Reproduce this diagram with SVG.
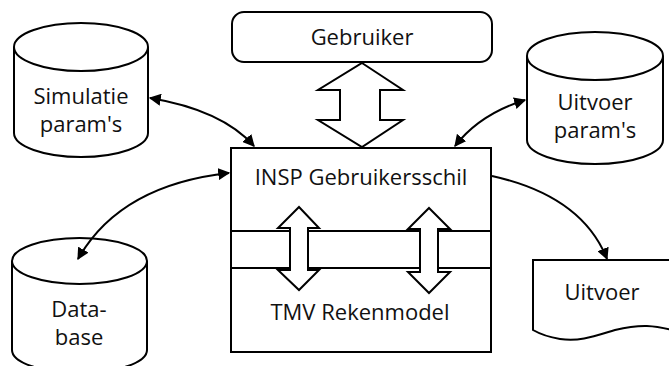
<svg xmlns="http://www.w3.org/2000/svg" width="669" height="366" viewBox="0 0 669 366">
<defs>
<style>
.s{fill:#fff;stroke:#000;stroke-width:2}
.t{font-family:"Open Sans","Noto Sans",sans-serif;font-size:22px;fill:#111;text-anchor:middle}
.c{fill:none;stroke:#000;stroke-width:2}
</style>
<marker id="ah" viewBox="0 0 10 10" refX="9" refY="5" markerWidth="6" markerHeight="6" orient="auto-start-reverse" markerUnits="strokeWidth">
<path d="M0,0 L10,5 L0,10 Z" fill="#000"/>
</marker>
</defs>
<rect width="669" height="366" fill="#fff"/>

<g id="simulatie">
<path class="s" d="M14,47 L14,133 A67,24 0 0 0 148,133 L148,47 A67,24 0 0 0 14,47 Z"/>
<path class="c" d="M14,47 A67,24 0 0 0 148,47"/>
<text class="t" x="81" y="104">Simulatie</text>
<text class="t" x="81" y="132">param's</text>
</g>

<g id="gebruiker">
<rect class="s" x="232" y="12" width="260" height="50" rx="12"/>
<text class="t" x="362" y="45">Gebruiker</text>
</g>

<g id="uitvoerparams">
<path class="s" d="M527,56 L527,140 A68,24 0 0 0 663,140 L663,56 A68,24 0 0 0 527,56 Z"/>
<path class="c" d="M527,56 A68,24 0 0 0 663,56"/>
<text class="t" x="595" y="110">Uitvoer</text>
<text class="t" x="595" y="138">param's</text>
</g>

<g id="database">
<path class="s" d="M12,261 L12,350 A67.5,23 0 0 0 147,350 L147,261 A67.5,23 0 0 0 12,261 Z"/>
<path class="c" d="M12,261 A67.5,23 0 0 0 147,261"/>
<text class="t" x="79" y="317">Data-</text>
<text class="t" x="79" y="345">base</text>
</g>

<g id="uitvoer">
<path class="s" d="M533,260 L675,260 L675,331 C655,325 640,324 615,330 C595,336 580,342 560,339 C548,337 540,334 533,330 Z"/>
<text class="t" x="602" y="300">Uitvoer</text>
</g>

<g id="main">
<rect class="s" x="231" y="148" width="260" height="204"/>
<rect class="s" x="231" y="231" width="260" height="37"/>
<text class="t" x="361" y="185">INSP Gebruikersschil</text>
<text class="t" x="360" y="320">TMV Rekenmodel</text>
<path class="s" d="M299,207 L319,228 L308,228 L308,270 L319,270 L299,290 L278,270 L290,270 L290,228 L278,228 Z"/>
<path class="s" d="M429,208 L450,229 L438,229 L438,272 L450,272 L429,293 L408,272 L420,272 L420,229 L408,229 Z"/>
</g>

<g id="bigarrow">
<path class="s" d="M362,63 L403,90 L380,90 L380,120 L403,120 L362,147 L318,120 L340,120 L340,90 L318,90 Z"/>
</g>

<g id="connectors">
<path class="c" d="M150,98 Q222,110 254,146" marker-start="url(#ah)" marker-end="url(#ah)"/>
<path class="c" d="M525,100 Q480,114 455,146" marker-start="url(#ah)" marker-end="url(#ah)"/>
<path class="c" d="M229,173 Q120,185 78,259" marker-start="url(#ah)" marker-end="url(#ah)"/>
<path class="c" d="M492,176 Q582,196 607,259" marker-end="url(#ah)"/>
</g>
</svg>
